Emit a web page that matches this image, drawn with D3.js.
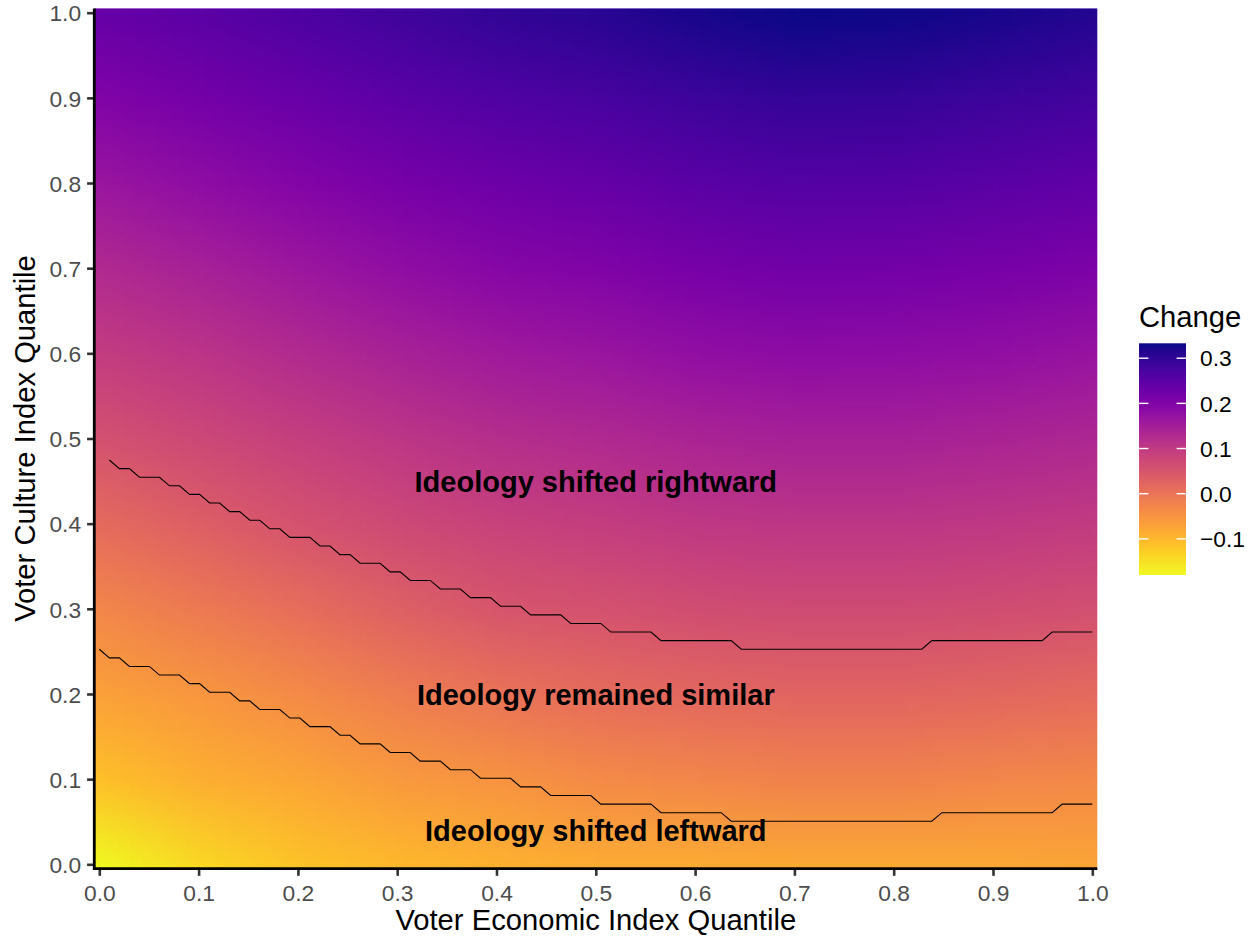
<!DOCTYPE html>
<html><head><meta charset="utf-8">
<script src="https://cdn.jsdelivr.net/npm/d3@7"></script>
<style>
body{margin:0;background:#fff}
svg{display:block}
text{font-family:"Liberation Sans",Arial,Helvetica,sans-serif}
</style>
</head><body>
<svg id="chart" width="1256" height="938"></svg>
<script>
// ---------------- data ----------------
const xTicks = [0, 0.1, 0.2, 0.3, 0.4, 0.5, 0.6, 0.7, 0.8, 0.9, 1.0];
const yTicks = [0, 0.1, 0.2, 0.3, 0.4, 0.5, 0.6, 0.7, 0.8, 0.9, 1.0];
const legendTicks = [-0.1, 0.0, 0.1, 0.2, 0.3];
const changeDomain = [-0.18, 0.333];

// estimated Change values on a coarse grid (columns: economic quantile, rows: culture quantile, top row = 1.0)
const gridX = [0, 0.1, 0.2, 0.3, 0.4, 0.5, 0.6, 0.7, 0.8, 0.9, 1.0];
const gridY = [1.0, 0.9, 0.8, 0.7, 0.6, 0.5, 0.4, 0.3, 0.2, 0.1, 0.0];
const changeGrid = [
  [0.235, 0.250, 0.266, 0.282, 0.297, 0.307, 0.323, 0.333, 0.330, 0.323, 0.313],
  [0.200, 0.215, 0.231, 0.247, 0.261, 0.271, 0.286, 0.295, 0.293, 0.286, 0.277],
  [0.164, 0.179, 0.196, 0.212, 0.226, 0.235, 0.249, 0.257, 0.255, 0.249, 0.241],
  [0.128, 0.144, 0.161, 0.177, 0.191, 0.199, 0.212, 0.219, 0.218, 0.212, 0.204],
  [0.093, 0.108, 0.125, 0.142, 0.155, 0.163, 0.175, 0.182, 0.180, 0.175, 0.168],
  [0.057, 0.073, 0.090, 0.106, 0.120, 0.128, 0.138, 0.144, 0.143, 0.138, 0.132],
  [0.014, 0.034, 0.055, 0.071, 0.084, 0.092, 0.101, 0.106, 0.105, 0.101, 0.096],
  [-0.030, -0.011, 0.010, 0.031, 0.049, 0.056, 0.064, 0.068, 0.068, 0.064, 0.060],
  [-0.068, -0.055, -0.037, -0.017, -0.001, 0.011, 0.019, 0.024, 0.024, 0.019, 0.014],
  [-0.110, -0.088, -0.077, -0.058, -0.050, -0.036, -0.031, -0.025, -0.025, -0.030, -0.035],
  [-0.180, -0.140, -0.115, -0.100, -0.090, -0.085, -0.083, -0.080, -0.080, -0.078, -0.075]
];

// quantile grid of the raster: k/99
const gridSteps = 99;
// boundary lines, culture-quantile grid index for each economic-quantile grid index
const upperLineStart = 1;
const upperLineY = [47,46,46,45,45,45,44,44,43,43,42,42,41,41,40,40,39,39,38,38,38,37,37,36,36,35,35,35,34,34,
  33,33,33,32,32,32,31,31,31,30,30,30,29,29,29,29,28,28,28,28,27,27,27,27,27,26,26,26,26,26,26,26,26,
  25,25,25,25,25,25,25,25,25,25,25,25,25,25,25,25,25,25,25,
  26,26,26,26,26,26,26,26,26,26,26,26,
  27,27,27,27,27];
const lowerLineStart = 0;
const lowerLineY = [25,24,24,23,23,23,22,22,22,21,21,20,20,20,19,19,18,18,18,17,17,16,16,16,15,15,14,14,14,
  13,13,13,12,12,12,11,11,11,10,10,10,10,9,9,9,8,8,8,8,8,7,7,7,7,7,7,6,6,6,6,6,6,6,
  5,5,5,5,5,5,5,5,5,5,5,5,5,5,5,5,5,5,5,5,5,
  6,6,6,6,6,6,6,6,6,6,6,6,
  7,7,7,7];

const regionLabels = ["Ideology shifted rightward", "Ideology remained similar", "Ideology shifted leftward"];
const regionLabelX = [0.5, 0.5, 0.5];
const regionLabelY = [0.45, 0.2, 0.04];

// ---------------- drawing ----------------
const svg = d3.select("#chart");
const xS = d3.scaleLinear().domain([0, 1]).range([99.3, 1092.3]);
const yS = d3.scaleLinear().domain([0, 1]).range([864.3, 12.7]);
const color = d3.scaleSequential(d3.interpolatePlasma).domain([changeDomain[1], changeDomain[0]]);

const half = 0.5 / gridSteps;
const px0 = xS(-half), px1 = xS(1 + half), py0 = yS(1 + half), py1 = yS(-half);

// raster
const small = document.createElement("canvas");
small.width = gridX.length; small.height = gridY.length;
const sctx = small.getContext("2d");
const img = sctx.createImageData(gridX.length, gridY.length);
changeGrid.forEach((row, j) => row.forEach((v, i) => {
  const c = d3.rgb(color(v));
  const k = (j * gridX.length + i) * 4;
  img.data[k] = c.r; img.data[k + 1] = c.g; img.data[k + 2] = c.b; img.data[k + 3] = 255;
}));
sctx.putImageData(img, 0, 0);

const W = Math.round(px1 - px0), H = Math.round(py1 - py0);
const big = document.createElement("canvas");
big.width = W; big.height = H;
const bctx = big.getContext("2d");
bctx.imageSmoothingEnabled = true;
bctx.imageSmoothingQuality = "low";
const cellW = (xS(gridX[1]) - xS(gridX[0]));
const cellH = (yS(gridY[1]) - yS(gridY[0]));
const dx = xS(gridX[0]) - cellW / 2 - px0;
const dy = yS(gridY[0]) - cellH / 2 - py0;
bctx.drawImage(small, dx, dy, cellW * gridX.length, cellH * gridY.length);

svg.append("image")
  .attr("x", px0).attr("y", py0).attr("width", W).attr("height", H)
  .attr("preserveAspectRatio", "none")
  .attr("href", big.toDataURL());

// boundary lines
const line = d3.line().x(d => xS(d[0])).y(d => yS(d[1]));
function pts(start, arr) { return arr.map((j, k) => [(start + k) / gridSteps, j / gridSteps]); }
[pts(upperLineStart, upperLineY), pts(lowerLineStart, lowerLineY)].forEach(p => {
  svg.append("path").attr("d", line(p)).attr("fill", "none")
    .attr("stroke", "#000").attr("stroke-width", 1.1);
});

// region labels
regionLabels.forEach((t, k) => {
  svg.append("text").attr("x", xS(regionLabelX[k])).attr("y", yS(regionLabelY[k]))
    .attr("dy", "0.38em").attr("text-anchor", "middle")
    .attr("font-size", 29).attr("font-weight", "bold").attr("fill", "#000").text(t);
});

// axes
const fmt = d3.format(".1f");
const xAxis = svg.append("g").attr("transform", `translate(0,${py1})`)
  .call(d3.axisBottom(xS).tickValues(xTicks).tickFormat(fmt).tickSize(7.2).tickSizeOuter(0).tickPadding(8));
const yAxis = svg.append("g").attr("transform", `translate(${px0},0)`)
  .call(d3.axisLeft(yS).tickValues(yTicks).tickFormat(fmt).tickSize(7.2).tickSizeOuter(0).tickPadding(6));
[xAxis, yAxis].forEach(g => {
  g.select(".domain").remove();
  g.selectAll(".tick line").attr("stroke", "#333333").attr("stroke-width", 2.6);
  g.selectAll(".tick text").attr("fill", "#4d4d4d").attr("font-size", 22.8)
    .attr("font-family", '"Liberation Sans",Arial,sans-serif');
});
xAxis.selectAll(".tick text").attr("dy", "0.74em");
yAxis.selectAll(".tick text").attr("dy", "0.36em");

svg.append("line").attr("x1", px0).attr("x2", px0).attr("y1", py0).attr("y2", py1 + 1.4)
  .attr("stroke", "#000").attr("stroke-width", 2.8);
svg.append("line").attr("x1", px0 - 1.4).attr("x2", px1).attr("y1", py1).attr("y2", py1)
  .attr("stroke", "#000").attr("stroke-width", 2.8);

// axis titles
svg.append("text").attr("x", (px0 + px1) / 2).attr("y", 930).attr("text-anchor", "middle")
  .attr("font-size", 29.2).attr("fill", "#000").text("Voter Economic Index Quantile");
svg.append("text").attr("transform", `translate(34.5,${(py0 + py1) / 2}) rotate(-90)`)
  .attr("text-anchor", "middle").attr("font-size", 29.2).attr("fill", "#000")
  .text("Voter Culture Index Quantile");

// legend
const lx = 1139, lw = 47, lyTop = 343.3, lyBot = 575;
const ly = d3.scaleLinear().domain(changeDomain).range([lyBot, lyTop]);
const defs = svg.append("defs");
const grad = defs.append("linearGradient").attr("id", "cbar")
  .attr("x1", 0).attr("y1", 1).attr("x2", 0).attr("y2", 0);
d3.range(0, 1.0001, 0.05).forEach(f => {
  const v = changeDomain[0] + f * (changeDomain[1] - changeDomain[0]);
  grad.append("stop").attr("offset", f).attr("stop-color", color(v));
});
svg.append("rect").attr("x", lx).attr("y", lyTop).attr("width", lw).attr("height", lyBot - lyTop)
  .attr("fill", "url(#cbar)");
legendTicks.forEach(v => {
  const y = ly(v);
  svg.append("line").attr("x1", lx).attr("x2", lx + lw / 5).attr("y1", y).attr("y2", y)
    .attr("stroke", "#fff").attr("stroke-width", 1.4);
  svg.append("line").attr("x1", lx + lw - lw / 5).attr("x2", lx + lw).attr("y1", y).attr("y2", y)
    .attr("stroke", "#fff").attr("stroke-width", 1.4);
  svg.append("text").attr("x", 1200).attr("y", y).attr("dy", "0.36em")
    .attr("font-size", 22.8).attr("fill", "#000")
    .text(v < 0 ? "\u2212" + fmt(-v) : fmt(v));
});
svg.append("text").attr("x", lx).attr("y", 327).attr("font-size", 29.2).attr("fill", "#000").text("Change");
</script>
</body></html>
